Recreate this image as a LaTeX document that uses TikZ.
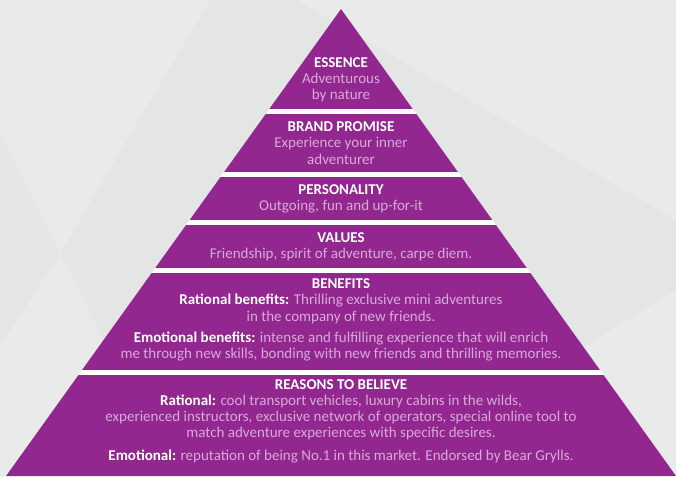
\documentclass[tikz,border=0pt]{standalone}
\usepackage{fontspec}
\setmainfont{Carlito}
\definecolor{pyr}{HTML}{91278F}
\definecolor{subtxt}{HTML}{D9AAD8}
\definecolor{bgA}{HTML}{E4E5E5}
\definecolor{bgB}{HTML}{E9EAEA}
\newcommand{\whb}[1]{\textcolor{white}{\bfseries #1}}
\tikzset{
  lbl/.style={text=subtxt, align=center, inner sep=0pt, font=\fontsize{15}{16.2}\selectfont},
}
\begin{document}
\begin{tikzpicture}[x=1pt,y=-1pt]
\useasboundingbox (0,0) rectangle (676,476);
% background
\fill[bgA] (0,0) rectangle (676,476);
\fill[bgB] (0,0) -- (210,0) -- (60,253) -- (0,133) -- cycle;
\fill[bgB] (60,253) -- (171,476) -- (0,476) -- (0,347) -- cycle;
\fill[bgB] (297,0) -- (676,0) -- (676,220) -- cycle;
\fill[bgB] (676,290) -- (676,476) -- (375,476) -- cycle;
% pyramid
\coordinate (apex) at (341,9);
\coordinate (bl) at (6,476);
\coordinate (br) at (676,476);
\fill[white] (apex) -- (br) -- (bl) -- cycle;
\begin{scope}
\clip (apex) -- (br) -- (bl) -- cycle;
\fill[pyr] (0,9) rectangle (676,109);
\fill[pyr] (0,114) rectangle (676,172);
\fill[pyr] (0,177) rectangle (676,220);
\fill[pyr] (0,225) rectangle (676,268);
\fill[pyr] (0,273) rectangle (676,370);
\fill[pyr] (0,375) rectangle (676,477);
\end{scope}
% texts
\node[lbl] (essence) at (341,80) {\whb{ESSENCE}\\Adventurous\\by nature};
\node[lbl] (promise) at (341,143) {\whb{BRAND PROMISE}\\Experience your inner\\adventurer};
\node[lbl] (personality) at (341,199) {\whb{PERSONALITY}\\Outgoing, fun and up-for-it};
\node[lbl] (values) at (341,247) {\whb{VALUES}\\Friendship, spirit of adventure, carpe diem.};
\node[lbl] (benefits) at (341,320) {\whb{BENEFITS}\\\whb{Rational benefits:} Thrilling exclusive mini adventures\\in the company of new friends.\\[5pt]\whb{Emotional benefits:} intense and fulfilling experience that will enrich\\me through new skills, bonding with new friends and thrilling memories.};
\node[lbl] (reasons) at (341,421) {\whb{REASONS TO BELIEVE}\\\whb{Rational:} cool transport vehicles, luxury cabins in the wilds,\\experienced instructors, exclusive network of operators, special online tool to\\match adventure experiences with specific desires.\\[6pt]\whb{Emotional:} reputation of being No.1 in this market. Endorsed by Bear Grylls.};
\end{tikzpicture}
\end{document}
